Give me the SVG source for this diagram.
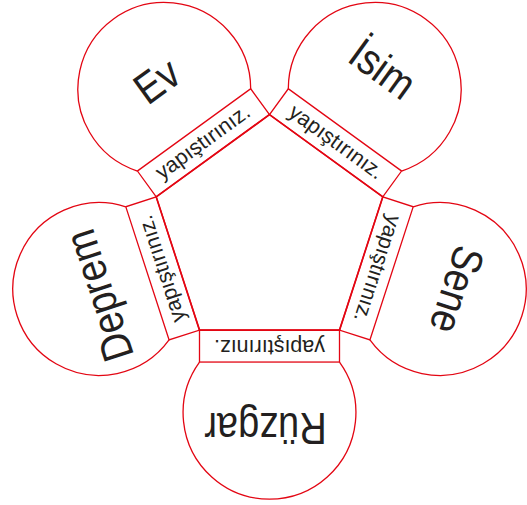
<svg xmlns="http://www.w3.org/2000/svg" width="527" height="505" viewBox="0 0 527 505">
<style>
.ln{fill:none;stroke:#e30613;stroke-width:1.3}
.tab{fill:#fff;stroke:#e30613;stroke-width:1.3}
.pent{fill:none;stroke:#e30613;stroke-width:1.7;stroke-linejoin:miter}
.tt{font-family:"Liberation Sans",Arial,sans-serif;font-size:21.5px;fill:#231f20;text-anchor:middle}
.w{font-family:"Liberation Sans",Arial,sans-serif;font-size:38px;fill:#231f20;text-anchor:middle}
</style>
<defs>
<g id="petal">
<path class="ln" d="M-70,-128.35 A86.4,86.4 0 1 1 70,-128.35"/>
<rect class="tab" x="-70" y="-128.35" width="140" height="32"/>
</g>
</defs>
<rect width="527" height="505" fill="#fff"/>
<g id="node-ev">
<g transform="translate(269.5,233.7) rotate(-36)"><use href="#petal"/><text class="tt" x="0" y="-106.5">yapıştırınız.</text></g>
<g transform="translate(156.5,80.5) rotate(-36) scale(1,1.15)"><text class="w" x="0" y="13.5">Ev</text></g>
</g>
<g id="node-isim">
<g transform="translate(269.5,233.7) rotate(36)"><use href="#petal"/><text class="tt" x="0" y="-106.5">yapıştırınız.</text></g>
<g transform="translate(385,65.5) rotate(36) scale(1,1.15)"><text class="w" x="0" y="16.5">İsim</text></g>
</g>
<g id="node-sene">
<g transform="translate(269.5,233.7) rotate(108)"><use href="#petal"/><text class="tt" x="0" y="-106.5">yapıştırınız.</text></g>
<g transform="translate(457.5,290) rotate(108) scale(1,1.15)"><text class="w" x="0" y="13.5">Sene</text></g>
</g>
<g id="node-ruzgar">
<g transform="translate(269.5,233.7) rotate(180)"><use href="#petal"/><text class="tt" x="0" y="-106.5">yapıştırınız.</text></g>
<g transform="translate(265.5,425) rotate(180) scale(1,1.15)"><text class="w" x="0" y="10">Rüzgar</text></g>
</g>
<g id="node-deprem">
<g transform="translate(269.5,233.7) rotate(-108)"><use href="#petal"/><text class="tt" x="0" y="-106.5">yapıştırınız.</text></g>
<g transform="translate(102.5,294.5) rotate(-108) scale(1,1.15)"><text class="w" x="0" y="10">Deprem</text></g>
</g>
<g id="connectors">
<polygon class="pent" points="269.5,114.6 382.8,196.9 339.5,330.05 199.5,330.05 156.2,196.9"/>
</g>
</svg>
